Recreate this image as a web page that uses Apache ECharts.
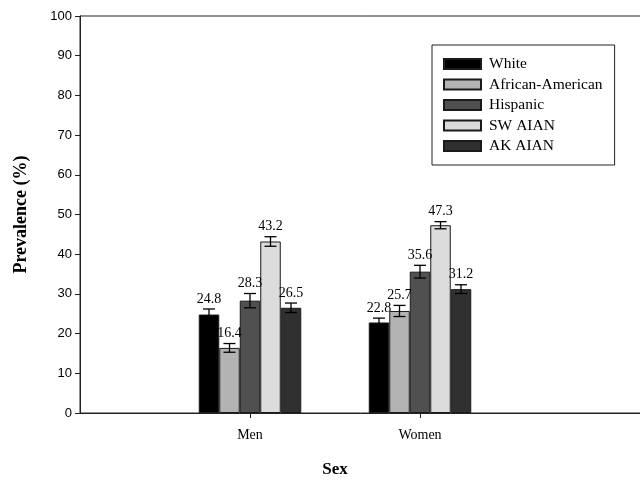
<!DOCTYPE html>
<html>
<head>
<meta charset="utf-8">
<script src="https://cdn.jsdelivr.net/npm/echarts@6/dist/echarts.min.js"></script>
<style>html,body{margin:0;padding:0;background:#fff}#c{width:640px;height:480px}</style>
</head>
<body>
<div id="c"></div>
<script>
var categories = ['', 'Men', 'Women', ' ', '  '];
var seriesNames = ['White', 'African-American', 'Hispanic', 'SW AIAN', 'AK AIAN'];
var menValues = [24.8, 16.4, 28.3, 43.2, 26.5];
var womenValues = [22.8, 25.7, 35.6, 47.3, 31.2];
var menErrors = [1.4, 1.1, 1.8, 1.2, 1.2];
var womenErrors = [1.1, 1.4, 1.6, 0.9, 1.1];
var yTicks = [0, 10, 20, 30, 40, 50, 60, 70, 80, 90, 100];
var xTitle = 'Sex';
var yTitle = 'Prevalence (%)';

var colors = ['#000000', '#b3b3b3', '#505050', '#dcdcdc', '#303030'];
var BAR_W = 20.5;
var SERIF = '"Liberation Serif", "Times New Roman", serif';
var SANS = '"Liberation Sans", Arial, sans-serif';

var chart = echarts.init(document.getElementById('c'));
var series = [];
seriesNames.forEach(function (name, i) {
  series.push({
    name: name,
    type: 'bar',
    barWidth: BAR_W,
    barGap: '0%',
    data: [null, menValues[i], womenValues[i], null, null],
    itemStyle: { color: colors[i], borderColor: '#1a1a1a', borderWidth: 1 },
    z: 2
  });
});
var errData = [];
seriesNames.forEach(function (name, i) {
  errData.push([1, menValues[i], menErrors[i], i]);
  errData.push([2, womenValues[i], womenErrors[i], i]);
});
series.push({
  type: 'custom',
  name: 'err',
  data: errData,
  z: 5,
  clip: false,
  renderItem: function (params, api) {
    var cat = api.value(0), v = api.value(1), e = api.value(2), idx = api.value(3);
    var off = (idx - 2) * BAR_W;
    var top = api.coord([cat, v + e]);
    var bot = api.coord([cat, v - e]);
    var x = top[0] + off;
    var hw = 6;
    var ls = { stroke: '#000', lineWidth: 1.3 };
    return {
      type: 'group',
      children: [
        { type: 'line', shape: { x1: x, y1: top[1], x2: x, y2: bot[1] }, style: ls },
        { type: 'line', shape: { x1: x - hw, y1: top[1], x2: x + hw, y2: top[1] }, style: ls },
        { type: 'line', shape: { x1: x - hw, y1: bot[1], x2: x + hw, y2: bot[1] }, style: ls },
        { type: 'text', x: x, y: top[1] - 3,
          style: { text: v.toFixed(1), fill: '#000', fontSize: 14, fontFamily: SERIF, textAlign: 'center', textVerticalAlign: 'bottom' } }
      ]
    };
  }
});

chart.setOption({
  backgroundColor: '#ffffff',
  animation: false,
  grid: { left: 80, top: 16, width: 680, height: 397, outerBoundsMode: 'none', containLabel: false,
    show: true, borderColor: '#222', borderWidth: 1, backgroundColor: 'transparent' },
  legend: {
    data: seriesNames,
    orient: 'vertical',
    left: 432, top: 45,
    padding: [11, 12, 11, 11],
    borderColor: '#222', borderWidth: 1,
    itemWidth: 37, itemHeight: 10, itemGap: 4.5,
    icon: 'rect',
    textStyle: { fontFamily: SERIF, fontSize: 15.5, color: '#000', lineHeight: 16, padding: [0, 0, 0, 3] }
  },
  xAxis: {
    type: 'category',
    data: categories,
    boundaryGap: false,
    axisLine: { lineStyle: { color: '#222', width: 1 } },
    axisTick: { show: true, length: 5, interval: function (i) { return i === 1 || i === 2; }, lineStyle: { color: '#222' } },
    axisLabel: { margin: 15, fontFamily: SERIF, fontSize: 14, color: '#000', interval: 0 },
    splitLine: { show: false }
  },
  yAxis: {
    type: 'value',
    min: 0, max: 100, interval: 10,
    name: yTitle,
    nameLocation: 'middle',
    nameGap: 50,
    nameTextStyle: { fontFamily: SERIF, fontSize: 18, fontWeight: 'bold', color: '#000' },
    axisLine: { show: true, lineStyle: { color: '#222', width: 1 } },
    axisTick: { show: true, length: 5, lineStyle: { color: '#222' } },
    axisLabel: { margin: 8, fontFamily: SANS, fontSize: 13, color: '#000',
      formatter: function (v) { return yTicks.indexOf(v) >= 0 ? String(v) : ''; } },
    splitLine: { show: false }
  },
  series: series
});
// x-axis title centred under the original plotting span (category 0 .. 3)
var p0 = chart.convertToPixel({ xAxisIndex: 0 }, 0);
var p3 = chart.convertToPixel({ xAxisIndex: 0 }, 3);
chart.setOption({ graphic: [{
  type: 'text', x: (p0 + p3) / 2, y: 470,
  style: { text: xTitle, fontSize: 17, fontWeight: 'bold', fontFamily: SERIF, fill: '#000',
    textAlign: 'center', textVerticalAlign: 'middle' }
}] });
</script>
</body>
</html>
